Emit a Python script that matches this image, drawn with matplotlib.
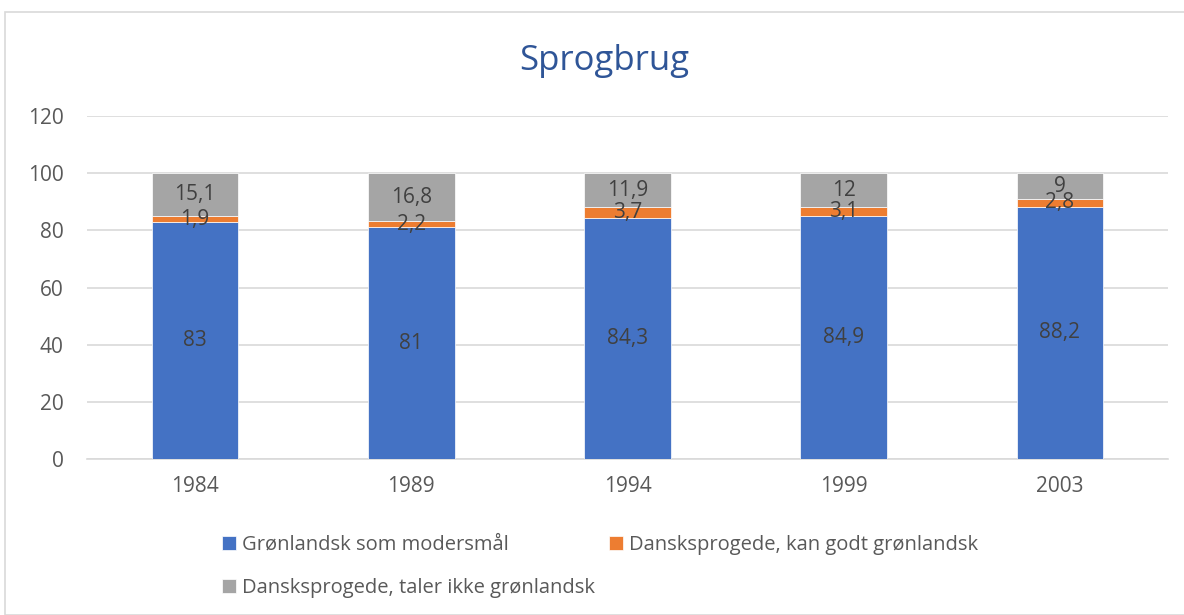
import matplotlib
matplotlib.use("Agg")
import matplotlib.pyplot as plt
from matplotlib.patches import Rectangle

years = ["1984", "1989", "1994", "1999", "2003"]
groenlandsk = [83, 81, 84.3, 84.9, 88.2]
dansk_kan = [1.9, 2.2, 3.7, 3.1, 2.8]
dansk_ikke = [15.1, 16.8, 11.9, 12, 9]
series_names = ["Grønlandsk som modersmål",
                "Dansksprogede, kan godt grønlandsk",
                "Dansksprogede, taler ikke grønlandsk"]
colors = ["#4472C4", "#ED7D31", "#A5A5A5"]
yticks = [0, 20, 40, 60, 80, 100, 120]

plt.rcParams['font.family'] = ['Open Sans', 'DejaVu Sans']

W, H = 1184, 615
fig = plt.figure(figsize=(W / 100, H / 100), dpi=100)
ax = fig.add_axes([87 / W, 1 - 459 / H, (1168 - 87) / W, (459 - 116) / H])

fig.patches.append(Rectangle((5 / W, 0), 1.2, 1 - 12 / H, transform=fig.transFigure,
                             fill=False, edgecolor="#D9D9D9", linewidth=1.2, zorder=0))

x = list(range(len(years)))
bottom = [0] * len(years)
handles = []
for vals, name, c in zip([groenlandsk, dansk_kan, dansk_ikke], series_names, colors):
    bars = ax.bar(x, vals, width=0.4, bottom=bottom, color=c, label=name,
                  edgecolor="white", linewidth=0.5, zorder=3)
    handles.append(bars)
    labels = [f"{v:g}".replace(".", ",") for v in vals]
    ax.bar_label(bars, labels=labels, label_type="center", fontsize=15, color="#404040", zorder=4)
    bottom = [b + v for b, v in zip(bottom, vals)]

ax.set_ylim(0, 120)
ax.set_xlim(-0.5, len(years) - 0.5)
ax.set_yticks(yticks)
ax.set_xticks(x)
ax.set_xticklabels(years)
ax.yaxis.grid(True, color="#D9D9D9", linewidth=1.2, zorder=0)
ax.set_axisbelow(True)
for s in ["top", "right", "left"]:
    ax.spines[s].set_visible(False)
ax.spines["bottom"].set_color("#D9D9D9")
ax.spines["bottom"].set_linewidth(1.2)
ax.tick_params(axis="both", length=0, labelsize=15, colors="#595959")
ax.tick_params(axis="x", pad=12)
ax.tick_params(axis="y", pad=17)

fig.text(604 / W, 1 - 61 / H, "Sprogbrug", ha="center", va="center", fontsize=25, color="#2F5597")

order = [0, 2, 1]
leg = fig.legend([handles[i] for i in order], [series_names[i] for i in order],
                 ncol=2, loc="upper left", bbox_to_anchor=(222 / W, 1 - 535 / H),
                 frameon=False, fontsize=14.5, handlelength=0.7, handleheight=0.7,
                 handletextpad=0.3, columnspacing=0.7, labelspacing=1.15,
                 borderpad=0, borderaxespad=0, labelcolor="#595959")

fig.savefig("out.png", dpi=100)
